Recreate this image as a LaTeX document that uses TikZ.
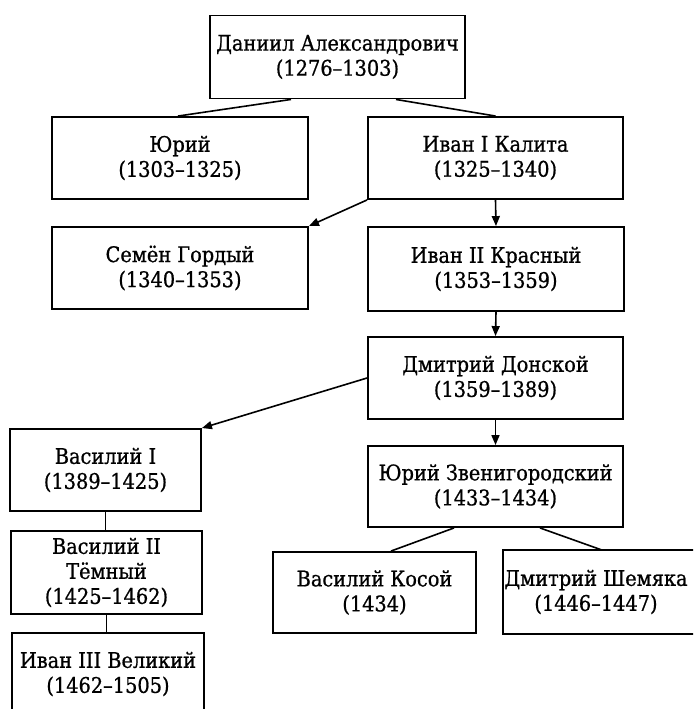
\documentclass[tikz,border=0pt]{standalone}
\usepackage{fontspec}
\setmainfont{DejaVu Serif Condensed}
\newfontfamily\boxfont{DejaVu Serif Condensed}[FakeBold=0.8]
\usetikzlibrary{arrows.meta}
\tikzset{
  box/.style={draw=black, line width=1.9pt, align=center, inner sep=0pt,
    font=\boxfont\fontsize{21.5}{25}\selectfont},
  link/.style={draw=black, line width=1.6pt},
  arr/.style={link, -{Triangle[length=10pt,width=8pt]}},
}
\begin{document}
\begin{tikzpicture}[x=1pt,y=-1pt]
\useasboundingbox (0,0) rectangle (693,709);
\fill[white] (0,0) rectangle (693,709);
\clip (0,0) rectangle (693,709);
\node[box, minimum width=255pt, minimum height=83pt] (daniil) at (337.5,57) {Даниил Александрович\\(1276–1303)};
\node[box, minimum width=256pt, minimum height=82pt] (yuri) at (180,158) {Юрий\\(1303–1325)};
\node[box, minimum width=255pt, minimum height=82pt] (ivan1) at (495.5,158) {Иван I Калита\\(1325–1340)};
\node[box, minimum width=256pt, minimum height=82pt] (semyon) at (180,268) {Семён Гордый\\(1340–1353)};
\node[box, minimum width=256pt, minimum height=84pt] (ivan2) at (496,269) {Иван II Красный\\(1353–1359)};
\node[box, minimum width=255pt, minimum height=82pt] (dmitry) at (495.5,378) {Дмитрий Донской\\(1359–1389)};
\node[box, minimum width=191pt, minimum height=82pt] (vas1) at (105.5,470) {Василий I\\(1389–1425)};
\node[box, minimum width=255pt, minimum height=81pt] (yurz) at (495.5,486.5) {Юрий Звенигородский\\(1433–1434)};
\node[box, minimum width=191pt, minimum height=83pt] (vas2) at (106.5,572.5) {Василий II\\Тёмный\\(1425–1462)};
\node[box, minimum width=192pt, minimum height=82pt] (ivan3) at (108,674) {Иван III Великий\\(1462–1505)};
\node[box, minimum width=203pt, minimum height=81pt] (kosoy) at (374.5,592.5) {Василий Косой\\(1434)};
\node[box, draw=none, minimum width=184pt, minimum height=82pt] (shem) at (596,592) {Дмитрий Шемяка\\(1446–1447)};
\draw[line width=1.9pt] (shem.north west) rectangle ([xshift=24pt]shem.south east);
\draw[link] ([xshift=-46.5pt]daniil.south) -- ([xshift=-2pt]yuri.north);
\draw[link] ([xshift=58.5pt]daniil.south) -- (ivan1.north);
\draw[arr] (ivan1.south west) -- (semyon.north east);
\draw[arr] (ivan1.south) -- (ivan2.north);
\draw[arr] (ivan2.south) -- (dmitry.north);
\draw[arr] (dmitry.west) -- (vas1.north east);
\draw[arr] (dmitry.south) -- (yurz.north);
\draw[link] (vas1.south) -- (vas1.south |- vas2.north);
\draw[link] (vas2.south) -- (vas2.south |- ivan3.north);
\draw[link] ([xshift=-41.5pt]yurz.south) -- ([xshift=16.5pt]kosoy.north);
\draw[link] ([xshift=44.5pt]yurz.south) -- ([xshift=6pt]shem.north);
\end{tikzpicture}
\end{document}
